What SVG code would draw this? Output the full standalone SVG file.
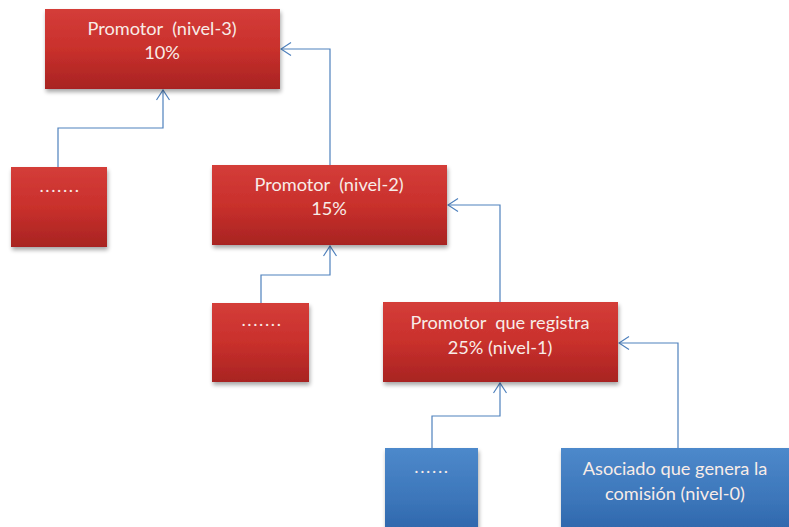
<svg xmlns="http://www.w3.org/2000/svg" width="789" height="527" viewBox="0 0 789 527">
<defs>
<linearGradient id="red" x1="0" y1="0" x2="0" y2="1">
<stop offset="0" stop-color="#d43d39"/>
<stop offset="0.5" stop-color="#c9302c"/>
<stop offset="1" stop-color="#a82422"/>
</linearGradient>
<linearGradient id="blue" x1="0" y1="0" x2="0" y2="1">
<stop offset="0" stop-color="#4d89cb"/>
<stop offset="0.6" stop-color="#3c76ba"/>
<stop offset="1" stop-color="#2d65ab"/>
</linearGradient>
<filter id="sh" x="-10%" y="-10%" width="125%" height="130%">
<feGaussianBlur in="SourceAlpha" stdDeviation="2"/>
<feOffset dx="1" dy="3" result="b"/>
<feComponentTransfer><feFuncA type="linear" slope="0.35"/></feComponentTransfer>
<feMerge><feMergeNode/><feMergeNode in="SourceGraphic"/></feMerge>
</filter>
<marker id="arr" viewBox="0 0 12 14" refX="11" refY="7" markerWidth="12" markerHeight="14" markerUnits="userSpaceOnUse" orient="auto">
<path d="M1,0.5 L11,7 L1,13.5" fill="none" stroke="#4f81bd" stroke-width="1.2"/>
</marker>
</defs>
<style>
.r{fill:url(#red);filter:url(#sh)}
.b{fill:url(#blue);filter:url(#sh)}
text{font-family:"Lato","Open Sans","Liberation Sans",sans-serif;font-size:18.2px;fill:#f8ece8;text-anchor:middle;white-space:pre}
.d{letter-spacing:1.6px}
.c{fill:none;stroke:#4f81bd;stroke-width:1.2}
</style>
<rect width="789" height="527" fill="#ffffff"/>
<g id="connectors">
<path class="c" d="M58,167 V128 H163 V90" marker-end="url(#arr)"/>
<path class="c" d="M330,165 V49 H281" marker-end="url(#arr)"/>
<path class="c" d="M261,303 V275 H330 V246" marker-end="url(#arr)"/>
<path class="c" d="M500,302 V205 H448" marker-end="url(#arr)"/>
<path class="c" d="M432,448 V416 H500 V383" marker-end="url(#arr)"/>
<path class="c" d="M678,448 V343 H619" marker-end="url(#arr)"/>
</g>
<g id="nivel3">
<rect class="r" x="45" y="9" width="235" height="80"/>
<text x="162" y="35">Promotor  (nivel-3)</text>
<text x="162" y="59">10%</text>
</g>
<g id="dots-left">
<rect class="r" x="11" y="167" width="96" height="80"/>
<text class="d" x="60" y="192">.......</text>
</g>
<g id="nivel2">
<rect class="r" x="212" y="165" width="235" height="80"/>
<text x="329" y="191">Promotor  (nivel-2)</text>
<text x="329" y="215">15%</text>
</g>
<g id="dots-mid">
<rect class="r" x="212" y="303" width="97" height="79"/>
<text class="d" x="262" y="326">.......</text>
</g>
<g id="nivel1">
<rect class="r" x="383" y="302" width="235" height="80"/>
<text x="500" y="329">Promotor  que registra</text>
<text x="500" y="354">25% (nivel-1)</text>
</g>
<g id="dots-blue">
<rect class="b" x="385" y="448" width="93" height="85"/>
<text class="d" x="432" y="473">......</text>
</g>
<g id="nivel0">
<rect class="b" x="561" y="448" width="235" height="85"/>
<text x="675" y="475">Asociado que genera la</text>
<text x="675" y="500">comisión (nivel-0)</text>
</g>
</svg>
